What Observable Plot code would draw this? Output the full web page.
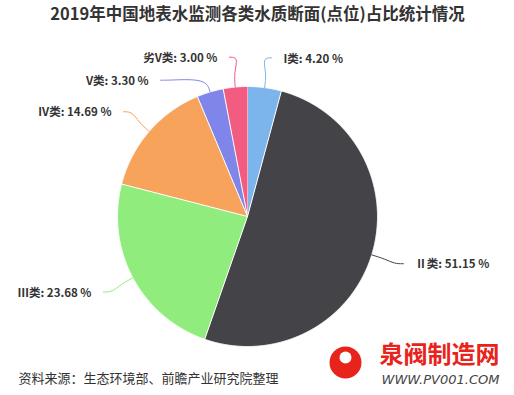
<!DOCTYPE html>
<html>
<head>
<meta charset="utf-8">
<script src="https://cdn.jsdelivr.net/npm/d3@7"></script>
<script src="https://cdn.jsdelivr.net/npm/@observablehq/plot@0.6"></script>
<style>
  html, body { margin: 0; padding: 0; background: #fff; }
  body { width: 514px; height: 395px; overflow: hidden; }
</style>
</head>
<body>
<div id="chart"></div>
<script>
const title = "2019年中国地表水监测各类水质断面(点位)占比统计情况";
const source = "资料来源：生态环境部、前瞻产业研究院整理";
const categories = ["I类", "Ⅱ类", "Ⅲ类", "IV类", "V类", "劣V类"];
const values = [4.20, 51.15, 23.68, 14.69, 3.30, 3.00];
const colors = ["#7cb5ec", "#434348", "#90ed7d", "#f7a35c", "#8085e9", "#f15c80"];

const W = 514, H = 395;
const cx = 247, cy = 216, r = 130, R = r + 30;

const data = categories.map((c, i) => ({cat: c, value: values[i]}));
const arcs = d3.pie().sort(null).value(d => d.value)(data);

// slice polygons
const polys = [];
arcs.forEach(a => {
  polys.push({cat: a.data.cat, x: cx, y: cy});
  const n = Math.max(2, Math.ceil((a.endAngle - a.startAngle) / 0.005));
  for (let k = 0; k <= n; k++) {
    const t = a.startAngle + (a.endAngle - a.startAngle) * k / n;
    polys.push({cat: a.data.cat, x: cx + r * Math.sin(t), y: cy - r * Math.cos(t)});
  }
});

// label placement (Highcharts-like)
const labels = arcs.map(a => {
  const m = (a.startAngle + a.endAngle) / 2;
  return {cat: a.data.cat, value: a.data.value, m, side: Math.sin(m) >= 0 ? 1 : -1,
          y: cy - R * Math.cos(m)};
});
for (const s of [1, -1]) {
  const g = labels.filter(l => l.side === s).sort((a, b) => a.y - b.y);
  for (let i = 1; i < g.length; i++) if (g[i].y - g[i-1].y < 23) g[i].y = g[i-1].y + 23;
}
labels.forEach(l => {
  const dy = l.y - cy;
  l.x = cx + l.side * Math.sqrt(Math.max(0, R * R - dy * dy));
  l.text = `${l.cat}: ${l.value.toFixed(2)} %`;
});
const connectors = [];
labels.forEach(l => {
  const tx = cx + r * Math.sin(l.m), ty = cy - r * Math.cos(l.m);
  const bx = cx + (r + 14) * Math.sin(l.m), by = cy - (r + 14) * Math.cos(l.m);
  connectors.push({cat: l.cat, x: tx, y: ty});
  connectors.push({cat: l.cat, x: bx, y: by});
  connectors.push({cat: l.cat, x: l.x - l.side * 6, y: l.y});
  connectors.push({cat: l.cat, x: l.x + l.side * 3, y: l.y});
});
const rightLabels = labels.filter(l => l.side > 0);
const leftLabels = labels.filter(l => l.side < 0);

const font = "'Noto Sans CJK SC', 'Noto Sans', sans-serif";
const labelOpts = {y: d => d.y + 1, text: "text", fontSize: 11.5, fontWeight: "bold", fill: "#333", fontFamily: font};

const chart = Plot.plot({
  width: W, height: H,
  margin: 0,
  x: {domain: [0, W], range: [0, W], axis: null},
  y: {domain: [0, H], range: [0, H], axis: null},
  color: {domain: categories, range: colors},
  style: {fontFamily: font, background: "#fff"},
  marks: [
    Plot.line(polys, {x: "x", y: "y", z: "cat", fill: "cat", stroke: "#fff", strokeWidth: 1, curve: "linear"}),
    Plot.line(connectors, {x: "x", y: "y", z: "cat", stroke: "cat", strokeWidth: 1, curve: "basis"}),
    Plot.text(rightLabels, {...labelOpts, x: d => d.x + 15, textAnchor: "start"}),
    Plot.text(leftLabels, {...labelOpts, x: d => d.x - 15, textAnchor: "end"}),
    Plot.text([title], {frameAnchor: "top", dy: 8, text: d => d, fontSize: 16.5, fontWeight: "bold", fill: "#333", lineAnchor: "top", fontFamily: font}),
    Plot.text([source], {frameAnchor: "bottom-left", dx: 18, dy: -13, text: d => d, fontSize: 13, fill: "#333", textAnchor: "start", lineAnchor: "bottom", fontFamily: font}),
    // watermark logo
    Plot.dot([0], {x: () => 345, y: () => 362, r: 16, fill: "#e8231b"}),
    Plot.dot([0], {x: () => 345, y: () => 357, r: 6, fill: "#fff"}),
    Plot.text(["泉阀制造网"], {x: () => 439, y: () => 355, text: d => d, fontSize: 24, fontWeight: "bold", fill: "#e8231b", fontFamily: font}),
    Plot.text(["WWW.PV001.COM"], {x: () => 440, y: () => 379, text: d => d, fontSize: 13, fontStyle: "italic", fill: "#444", fontFamily: "'DejaVu Sans', sans-serif"})
  ]
});
document.getElementById("chart").appendChild(chart);
</script>
</body>
</html>
